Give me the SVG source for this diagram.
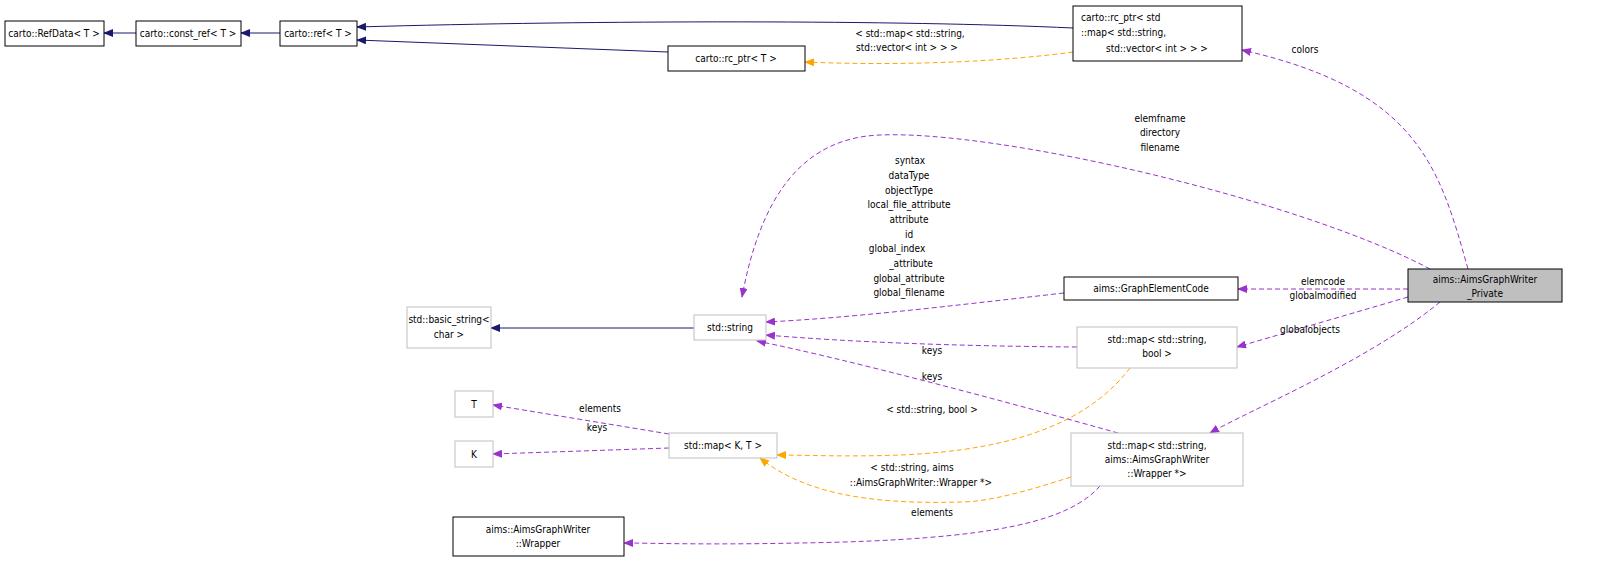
<svg xmlns="http://www.w3.org/2000/svg" width="1612" height="563" viewBox="0 0 1612 563">
<style>
text{font-family:"DejaVu Sans Condensed","DejaVu Sans",sans-serif;font-stretch:condensed;font-size:10px;fill:#000;text-anchor:middle}
.n rect{fill:#fff;stroke:#000;stroke-width:1}
.g rect{fill:#fff;stroke:#bfbfbf;stroke-width:1}
.e path{fill:none}
.inh{stroke:#191970}
.use{stroke:#9a32cd;stroke-dasharray:5,3}
.tpl{stroke:#ffa500;stroke-dasharray:5,3}
</style>
<defs>
<marker id="an" markerWidth="10" markerHeight="8" refX="9" refY="4" orient="auto" markerUnits="userSpaceOnUse"><path d="M0,0L10,4L0,8z" fill="#191970"/></marker>
<marker id="ap" markerWidth="10" markerHeight="8" refX="9" refY="4" orient="auto" markerUnits="userSpaceOnUse"><path d="M0,0L10,4L0,8z" fill="#9a32cd"/></marker>
<marker id="ao" markerWidth="10" markerHeight="8" refX="9" refY="4" orient="auto" markerUnits="userSpaceOnUse"><path d="M0,0L10,4L0,8z" fill="#ffa500"/></marker>
</defs>
<rect width="1612" height="563" fill="#fff"/>
<g id="edges" class="e">
<path class="inh" d="M136,33L104,33" marker-end="url(#an)"/>
<path class="inh" d="M280,33L241,33" marker-end="url(#an)"/>
<path class="inh" d="M1073,28C900,20 600,20 357,27" marker-end="url(#an)"/>
<path class="inh" d="M668,52L357,40" marker-end="url(#an)"/>
<path class="inh" d="M694,328L491,328" marker-end="url(#an)"/>
<path class="tpl" d="M1073,52C1000,62 900,66 805,62" marker-end="url(#ao)"/>
<path class="use" d="M1468,269C1440,170 1420,90 1242,50" marker-end="url(#ap)"/>
<path class="use" d="M1430,269C1300,200 1000,130 880,135C800,138 760,200 742,297" marker-end="url(#ap)"/>
<path class="use" d="M1408,289L1238,289" marker-end="url(#ap)"/>
<path class="use" d="M1408,297L1237,347" marker-end="url(#ap)"/>
<path class="use" d="M1440,302C1370,360 1250,410 1210,433" marker-end="url(#ap)"/>
<path class="use" d="M1064,293C950,306 850,318 766,322" marker-end="url(#ap)"/>
<path class="use" d="M1077,347C950,346 850,342 766,335" marker-end="url(#ap)"/>
<path class="use" d="M1118,433C1000,400 850,360 757,341" marker-end="url(#ap)"/>
<path class="tpl" d="M1130,368C1090,420 1020,450 900,455C850,457 800,455 777,455" marker-end="url(#ao)"/>
<path class="tpl" d="M1071,477C1030,490 990,502 960,502C860,505 800,490 760,458" marker-end="url(#ao)"/>
<path class="use" d="M1100,486C1070,520 1000,540 800,543C700,545 650,543 624,543" marker-end="url(#ap)"/>
<path class="use" d="M669,434L493,405" marker-end="url(#ap)"/>
<path class="use" d="M669,448L493,454" marker-end="url(#ap)"/>
</g>
<g id="labels">
<text x="910" y="37">&lt; std::map&lt; std::string,</text>
<text x="907" y="51">std::vector&lt; int &gt; &gt; &gt;</text>
<text x="1305" y="53">colors</text>
<text x="1160" y="122">elemfname</text>
<text x="1160" y="136">directory</text>
<text x="1160" y="151">filename</text>
<text x="910" y="164">syntax</text>
<text x="909" y="179">dataType</text>
<text x="909" y="194">objectType</text>
<text x="909" y="208">local_file_attribute</text>
<text x="909" y="223">attribute</text>
<text x="909" y="238">id</text>
<text x="897" y="252">global_index</text>
<text x="911" y="267">_attribute</text>
<text x="909" y="282">global_attribute</text>
<text x="909" y="296">global_filename</text>
<text x="1323" y="285">elemcode</text>
<text x="1323" y="299">globalmodified</text>
<text x="1310" y="333">globalobjects</text>
<text x="932" y="354">keys</text>
<text x="932" y="380">keys</text>
<text x="932" y="413">&lt; std::string, bool &gt;</text>
<text x="600" y="412">elements</text>
<text x="597" y="431">keys</text>
<text x="912" y="471">&lt; std::string, aims</text>
<text x="921" y="486">::AimsGraphWriter::Wrapper *&gt;</text>
<text x="932" y="516">elements</text>
</g>
<g id="n_refdata" class="n"><rect x="5" y="21" width="99" height="25"/><text x="54" y="37">carto::RefData&lt; T &gt;</text></g>
<g id="n_constref" class="n"><rect x="136" y="21" width="105" height="25"/><text x="188" y="37">carto::const_ref&lt; T &gt;</text></g>
<g id="n_ref" class="n"><rect x="280" y="21" width="77" height="25"/><text x="318" y="37">carto::ref&lt; T &gt;</text></g>
<g id="n_rcptr" class="n"><rect x="668" y="46" width="137" height="25"/><text x="736" y="62">carto::rc_ptr&lt; T &gt;</text></g>
<g id="n_rcmap" class="n"><rect x="1073" y="6" width="169" height="55"/><text x="1081" y="21" style="text-anchor:start">carto::rc_ptr&lt; std</text><text x="1081" y="36" style="text-anchor:start">::map&lt; std::string,</text><text x="1157" y="52">std::vector&lt; int &gt; &gt; &gt;</text></g>
<g id="n_private" class="n"><rect x="1408" y="269" width="154" height="33" style="fill:#bfbfbf"/><text x="1485" y="283">aims::AimsGraphWriter</text><text x="1485" y="297">_Private</text></g>
<g id="n_gec" class="n"><rect x="1064" y="277" width="174" height="23"/><text x="1151" y="292">aims::GraphElementCode</text></g>
<g id="n_string" class="g"><rect x="694" y="315" width="72" height="25"/><text x="730" y="331">std::string</text></g>
<g id="n_basic" class="g"><rect x="407" y="307" width="84" height="41"/><text x="449" y="323">std::basic_string&lt;</text><text x="449" y="338">char &gt;</text></g>
<g id="n_mapbool" class="g"><rect x="1077" y="327" width="160" height="41"/><text x="1157" y="343">std::map&lt; std::string,</text><text x="1157" y="357">bool &gt;</text></g>
<g id="n_T" class="g"><rect x="455" y="391" width="38" height="26"/><text x="474" y="408">T</text></g>
<g id="n_K" class="g"><rect x="455" y="441" width="38" height="26"/><text x="474" y="458">K</text></g>
<g id="n_mapkt" class="g"><rect x="669" y="433" width="108" height="25"/><text x="723" y="449">std::map&lt; K, T &gt;</text></g>
<g id="n_mapwr" class="g"><rect x="1071" y="433" width="172" height="53"/><text x="1157" y="449">std::map&lt; std::string,</text><text x="1157" y="463">aims::AimsGraphWriter</text><text x="1157" y="477">::Wrapper *&gt;</text></g>
<g id="n_wrapper" class="n"><rect x="453" y="517" width="171" height="39"/><text x="538" y="533">aims::AimsGraphWriter</text><text x="538" y="547">::Wrapper</text></g>
</svg>
